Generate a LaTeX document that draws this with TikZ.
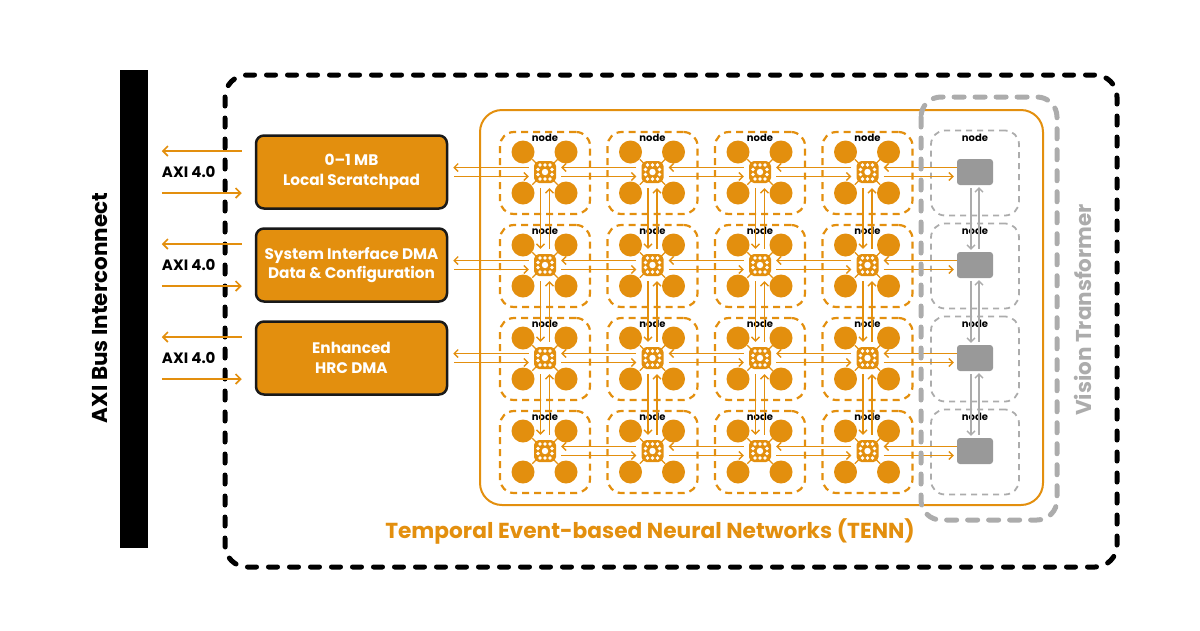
\documentclass[tikz,border=0pt]{standalone}
\usepackage{fontspec}
\setmainfont{Poppins}
\usepackage{xcolor}
\usepackage{tikz}
\usetikzlibrary{arrows.meta}
\usetikzlibrary{positioning}
\usetikzlibrary{calc}
\definecolor{laranja}{RGB}{227,143,14}
\definecolor{cinza}{RGB}{153,153,153}
\definecolor{cinzaclaro}{RGB}{172,172,172}
\tikzset{
  caixa/.style={draw=black!90, line width=2.5pt, rounded corners=8pt, fill=laranja, text=white, align=center, minimum width=191pt, minimum height=73pt, inner sep=0pt, font=\fontsize{15.3}{19.5}\selectfont\bfseries},
  quadro/.style={draw=laranja, line width=2.2pt, dash pattern=on 7pt off 5pt, rounded corners=14pt, minimum width=90pt, minimum height=82pt, inner sep=0pt},
  quadro cinza/.style={draw=cinzaclaro, line width=1.8pt, dash pattern=on 6pt off 5pt, rounded corners=14pt, minimum width=88pt, minimum height=85pt, inner sep=0pt},
  chip/.style={rectangle, minimum size=32pt, inner sep=0pt},
  bloco/.style={fill=cinza, rounded corners=3pt, minimum width=36pt, minimum height=26pt, inner sep=0pt},
  nome/.style={font=\fontsize{10}{11}\selectfont\bfseries, inner sep=0pt},
  axi/.style={font=\fontsize{15}{16}\selectfont\bfseries, inner sep=0pt},
  seta/.style={-{Straight Barb[length=4pt,width=8pt]}, laranja, line width=1.3pt},
  seta axi/.style={-{Straight Barb[length=5pt,width=10pt]}, laranja, line width=1.6pt},
  seta cinza/.style={-{Straight Barb[length=4pt,width=8pt]}, cinzaclaro, line width=1.3pt},
  contorno/.style={line width=5pt, dash pattern=on 9pt off 12pt, line cap=round, rounded corners=22pt},
}

\begin{document}
\begin{tikzpicture}[x=1pt, y=-1pt]
  \useasboundingbox (0,0) rectangle (1200,630);
  \fill (120,70) rectangle (148,548);
  \node[rotate=90, font=\fontsize{21.5}{22}\selectfont\bfseries] (barra) at (100,308) {AXI Bus Interconnect};
  \draw[contorno] (225,75) rectangle (1117,567);
  \draw[laranja, line width=2pt, rounded corners=22pt] (480,110) rectangle (1043,505);

  \node[caixa] (b1) at (351.5,172) {0--1 MB\\Local Scratchpad};
  \node[caixa] (b2) at (351.5,265) {System Interface DMA\\Data \& Configuration};
  \node[caixa] (b3) at (351.5,358) {Enhanced\\HRC DMA};

  \foreach \c/\x in {1/545,2/652.5,3/760,4/867.5}{
    \foreach \l/\y in {1/172,2/265,3/358,4/451}{
      \node[quadro] (q\c\l) at (\x,\y+1) {};
      \node[nome] (t\c\l) at (\x,\y-34) {node};
      \foreach \dx/\dy in {-22/-20,21/-20,-22/21,21/21}
        \fill[laranja] (\x+\dx,\y+\dy) circle (11.5pt);
      \foreach \a in {45,135,225,315}
        \draw[laranja, line width=1.2pt] ($(\x,\y)+(\a:13pt)$) -- ($(\x,\y)+(\a:18pt)$);
      \node[chip] (r\c\l) at (\x,\y) {};
      \fill[laranja, rounded corners=5pt] (\x-11,\y-11) rectangle (\x+11,\y+11);
      \foreach \dx/\dy in {-5/-7,0/-7,5/-7,-5/7,0/7,5/7,-7/-2.5,-7/2.5,7/-2.5,7/2.5}
        \fill[white] (\x+\dx,\y+\dy) circle (1.9pt);
      \fill[white] (\x,\y) circle (3.2pt);
    }
  }

  \foreach \l/\y in {1/172,2/265,3/358,4/451}{
    \node[quadro cinza] (qv\l) at (975,\y+1) {};
    \node[nome] (tv\l) at (975,\y-34) {node};
    \node[bloco] (v\l) at (975,\y) {};
  }

  \foreach \l in {1,...,4}{
    \foreach \c/\p in {1/2,2/3,3/4}{
      \draw[seta] ($(r\p\l.west)+(0,-4.5)$) -- ($(r\c\l.east)+(0,-4.5)$);
      \draw[seta] ($(r\c\l.east)+(0,4.5)$) -- ($(r\p\l.west)+(0,4.5)$);
    }
    \draw[seta] ($(v\l.west)+(0,-4.5)$) -- ($(r4\l.east)+(0,-4.5)$);
    \draw[seta] ($(r4\l.east)+(0,4.5)$) -- ($(v\l.west)+(-3,4.5)$);
  }
  \foreach \c in {1,...,4}
    \foreach \l/\p in {1/2,2/3,3/4}{
      \draw[seta] ($(r\c\l.south)+(-4.5,0)$) -- ($(r\c\p.north)+(-4.5,0)$);
      \draw[seta] ($(r\c\p.north)+(4.5,0)$) -- ($(r\c\l.south)+(4.5,0)$);
    }
  \foreach \l/\p in {1/2,2/3,3/4}{
    \draw[seta cinza] ($(v\l.south)+(-4,3)$) -- ($(v\p.north)+(-4,-2)$);
    \draw[seta cinza] ($(v\p.north)+(4,-3)$) -- ($(v\l.south)+(4,2)$);
  }

  \foreach \l in {1,2,3}{
    \draw[seta] ($(r1\l.west)+(0,-4.5)$) -- ($(b\l.east)+(5,-4.5)$);
    \draw[seta] ($(b\l.east)+(6,4.5)$) -- ($(r1\l.west)+(0,4.5)$);
    \draw[seta axi] ($(b\l.west)+(-13,-21)$) -- ($(b\l.west)+(-93,-21)$);
    \draw[seta axi] ($(b\l.west)+(-93,21)$) -- ($(b\l.west)+(-13,21)$);
    \node[axi] (a\l) at ($(b\l.west)+(-66,0)$) {AXI 4.0};
  }

  \draw[contorno, draw=cinzaclaro, dash pattern=on 10pt off 11pt, rounded corners=20pt] (921,97) rectangle (1057,520);
  \node[rotate=90, text=cinzaclaro, font=\fontsize{21.5}{22}\selectfont\bfseries] (vt) at (1083,310) {Vision Transformer};
  \node[text=laranja, font=\fontsize{21.7}{23}\selectfont\bfseries] (tenn) at (650,531) {Temporal Event-based Neural Networks (TENN)};
\end{tikzpicture}
\end{document}
